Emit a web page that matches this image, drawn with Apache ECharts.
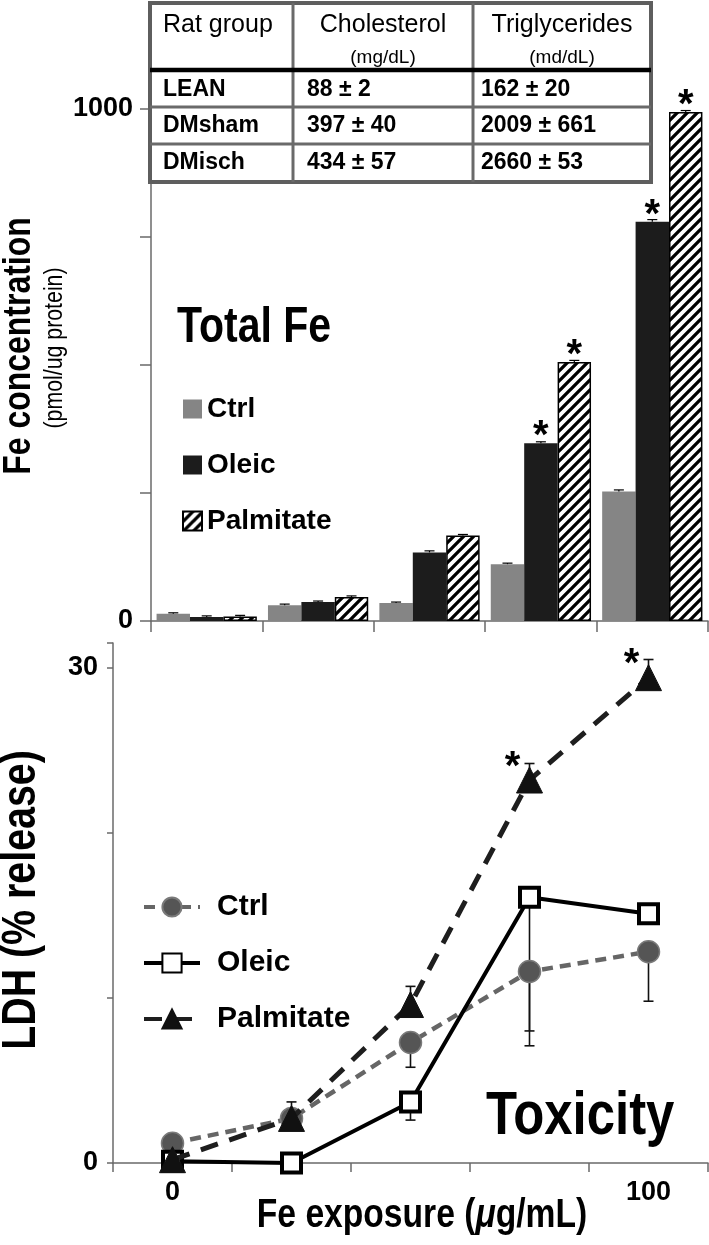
<!DOCTYPE html>
<html>
<head>
<meta charset="utf-8">
<script src="https://cdn.jsdelivr.net/npm/echarts@6/dist/echarts.min.js"></script>
<style>
html,body{margin:0;padding:0;background:#fff;}
#chart{width:709px;height:1245px;}
</style>
</head>
<body>
<div id="chart"></div>
<script>
// ---------- DATA ----------
const exposureCats = ['0', 'e2', 'e3', 'e4', '100'];
const exposureLabels = ['0', '', '', '', '100'];
const seriesNames = ['Ctrl', 'Oleic', 'Palmitate'];

// Top panel: Total Fe (pmol/ug protein)
const feCtrl = [14, 31, 35, 111, 253];
const feOleic = [8, 37, 134, 347, 780];
const fePalm = [9, 47, 167, 506, 994];
const feCtrlErr = [2, 2, 2, 2, 3];
const feOleicErr = [2, 2, 3, 3, 4];
const fePalmErr = [2, 2, 2, 3, 3];
const feOleicSig = [0, 0, 0, 1, 1];
const fePalmSig = [0, 0, 0, 1, 1];
const feTicks = [0, 1000];

// Bottom panel: LDH (% release)
const ldhCtrl = [1.2, 2.7, 7.3, 11.6, 12.8];
const ldhOleic = [0.1, 0, 3.7, 16.1, 15.1];
const ldhPalm = [0.2, 2.7, 9.6, 23.2, 29.4];
const ldhCtrlErrLow = [0, 0, 1.5, 4.5, 3.0];
const ldhOleicErrLow = [0, 0, 1.1, 8.1, 0];
const ldhPalmErrUp = [0, 1.0, 1.1, 1.0, 1.1];
const ldhPalmSig = [0, 0, 0, 1, 1];
const ldhTicks = [0, 30];

// Table
const tableHeader = ['Rat group', 'Cholesterol', 'Triglycerides'];
const tableUnits = ['', '(mg/dL)', '(md/dL)'];
const ratGroups = ['LEAN', 'DMsham', 'DMisch'];
const cholesterol = ['88 \u00b1 2', '397 \u00b1 40', '434 \u00b1 57'];
const triglycerides = ['162 \u00b1 20', '2009 \u00b1 661', '2660 \u00b1 53'];

// ---------- STYLE ----------
const SANS = "'Liberation Sans',Arial,Helvetica,sans-serif";
const AXIS = '#6a6a6a';
const NX = 0.82; // horizontal squeeze to mimic a narrow bold face
const chart = echarts.init(document.getElementById('chart'), null, {renderer: 'canvas'});

function hatchPattern() {
  const c = document.createElement('canvas');
  c.width = 10; c.height = 10;
  const ctx = c.getContext('2d');
  ctx.fillStyle = '#fff';
  ctx.fillRect(0, 0, 10, 10);
  ctx.strokeStyle = '#000';
  ctx.lineWidth = 3.3;
  ctx.beginPath();
  ctx.moveTo(-5, 5); ctx.lineTo(5, -5);
  ctx.moveTo(0, 10); ctx.lineTo(10, 0);
  ctx.moveTo(5, 15); ctx.lineTo(15, 5);
  ctx.stroke();
  return {image: c, repeat: 'repeat'};
}

function barErrItem(params, api) {
  const cat = api.value(0), val = api.value(1), err = api.value(2), s = api.value(3);
  const p = api.coord([cat, val]);
  const band = api.size([1, 0])[0];
  const bw = band * 0.9 / 3;
  const x = p[0] + (s - 1) * bw;
  const t = api.coord([cat, val + err])[1];
  const st = {stroke: '#000', lineWidth: 1.2};
  return {type: 'group', children: [
    {type: 'line', shape: {x1: x, y1: p[1], x2: x, y2: t}, style: st},
    {type: 'line', shape: {x1: x - 5, y1: t, x2: x + 5, y2: t}, style: st}
  ]};
}
function lineErrItem(params, api) {
  const cat = api.value(0), val = api.value(1), lo = api.value(2), hi = api.value(3);
  const p = api.coord([cat, val]);
  const st = {stroke: '#111', lineWidth: 1.6};
  const ch = [];
  if (lo > 0) {
    const y = api.coord([cat, val - lo])[1];
    ch.push({type: 'line', shape: {x1: p[0], y1: p[1], x2: p[0], y2: y}, style: st});
    ch.push({type: 'line', shape: {x1: p[0] - 5, y1: y, x2: p[0] + 5, y2: y}, style: st});
  }
  if (hi > 0) {
    const y = api.coord([cat, val + hi])[1];
    ch.push({type: 'line', shape: {x1: p[0], y1: p[1], x2: p[0], y2: y}, style: st});
    ch.push({type: 'line', shape: {x1: p[0] - 5, y1: y, x2: p[0] + 5, y2: y}, style: st});
  }
  return {type: 'group', children: ch};
}

const starLabelBar = {show: true, position: 'top', distance: -14, formatter: '*',
  fontSize: 40, fontWeight: 'bold', fontFamily: SANS, color: '#000'};
const starLabelLine = {show: true, position: 'top', distance: -21, offset: [-17, 0], formatter: '*',
  fontSize: 40, fontWeight: 'bold', fontFamily: SANS, color: '#000'};

function withSig(vals, sig, lab) {
  return vals.map((v, i) => sig[i] ? {value: v, label: lab} : v);
}

const axisLabelStyle = {fontFamily: SANS, fontWeight: 'bold', fontSize: 27, color: '#000'};

const option = {
  backgroundColor: '#fff',
  animation: false,
  grid: [
    {left: 151, right: 1, top: 109, bottom: 624},
    {left: 113, right: 1, top: 643, bottom: 82}
  ],
  xAxis: [
    {gridIndex: 0, type: 'category', data: exposureCats,
     axisLine: {lineStyle: {color: AXIS, width: 1.5}},
     axisTick: {show: true, length: 11, interval: 0, lineStyle: {color: AXIS, width: 1.5}},
     axisLabel: {show: false}},
    {gridIndex: 1, type: 'category', data: exposureCats,
     axisLine: {lineStyle: {color: AXIS, width: 1.5}},
     axisTick: {show: true, length: 9, interval: 0, lineStyle: {color: AXIS, width: 1.5}},
     axisLabel: Object.assign({show: true, interval: 0, margin: 16,
       formatter: (v, i) => exposureLabels[i]}, axisLabelStyle)}
  ],
  yAxis: [
    {gridIndex: 0, type: 'value', min: 0, max: 1000, interval: 250,
     axisLine: {show: true, lineStyle: {color: AXIS, width: 1.5}},
     axisTick: {show: true, length: 11, lineStyle: {color: AXIS, width: 1.5}},
     splitLine: {show: false},
     axisLabel: Object.assign({margin: 18,
       formatter: v => feTicks.indexOf(v) >= 0 ? String(v) : ''}, axisLabelStyle)},
    {gridIndex: 1, type: 'value', min: 0, max: 31.5, interval: 10,
     axisLine: {show: true, lineStyle: {color: AXIS, width: 1.5}},
     axisTick: {show: true, length: 6, lineStyle: {color: AXIS, width: 1.5}},
     splitLine: {show: false},
     axisLabel: Object.assign({margin: 15,
       formatter: v => ldhTicks.indexOf(v) >= 0 ? String(v) : ''}, axisLabelStyle)}
  ],
  legend: [
    {data: seriesNames, orient: 'vertical', left: 177, top: 389, itemGap: 26,
     itemWidth: 19, itemHeight: 19, selectedMode: false, icon: 'rect',
     textStyle: {fontFamily: SANS, fontWeight: 'bold', fontSize: 28, lineHeight: 30, color: '#000'}},
    {data: seriesNames.map(n => n + ' '), orient: 'vertical', left: 137, top: 887, itemGap: 26,
     itemWidth: 56, itemHeight: 24, selectedMode: false,
     formatter: n => n.trim(),
     lineStyle: {width: 4},
     textStyle: {fontFamily: SANS, fontWeight: 'bold', fontSize: 30, lineHeight: 30, color: '#000',
       padding: [0, 0, 0, 12]}}
  ],
  series: [
    {name: 'Ctrl', type: 'bar', xAxisIndex: 0, yAxisIndex: 0, barGap: '0%', barCategoryGap: '10%',
     itemStyle: {color: '#858585'}, data: feCtrl},
    {name: 'Oleic', type: 'bar', xAxisIndex: 0, yAxisIndex: 0, barGap: '0%', barCategoryGap: '10%',
     itemStyle: {color: '#1c1c1c'}, data: withSig(feOleic, feOleicSig, starLabelBar)},
    {name: 'Palmitate', type: 'bar', xAxisIndex: 0, yAxisIndex: 0, barGap: '0%', barCategoryGap: '10%',
     itemStyle: {color: hatchPattern(), borderColor: '#000', borderWidth: 1.5},
     data: withSig(fePalm, fePalmSig, starLabelBar)},
    {type: 'custom', xAxisIndex: 0, yAxisIndex: 0, renderItem: barErrItem, z: 5,
     encode: {x: 0, y: 1},
     data: [].concat(
       feCtrl.map((v, i) => [i, v, feCtrlErr[i], 0]),
       feOleic.map((v, i) => [i, v, feOleicErr[i], 1]),
       fePalm.map((v, i) => [i, v, fePalmErr[i], 2]))},

    {type: 'custom', xAxisIndex: 1, yAxisIndex: 1, renderItem: lineErrItem, z: 1,
     encode: {x: 0, y: 1},
     data: [].concat(
       ldhCtrl.map((v, i) => [i, v, ldhCtrlErrLow[i], 0]),
       ldhOleic.map((v, i) => [i, v, ldhOleicErrLow[i], 0]),
       ldhPalm.map((v, i) => [i, v, 0, ldhPalmErrUp[i]]))},
    {name: 'Ctrl ', type: 'line', xAxisIndex: 1, yAxisIndex: 1, z: 2,
     lineStyle: {color: '#666', width: 4.5, type: [11, 7]},
     symbol: 'circle', symbolSize: 22,
     itemStyle: {color: '#555', borderColor: '#7a7a7a', borderWidth: 1.5},
     data: ldhCtrl},
    {name: 'Oleic ', type: 'line', xAxisIndex: 1, yAxisIndex: 1, z: 3,
     lineStyle: {color: '#000', width: 4},
     symbol: 'rect', symbolSize: 19,
     itemStyle: {color: '#fff', borderColor: '#000', borderWidth: 4},
     data: ldhOleic},
    {name: 'Palmitate ', type: 'line', xAxisIndex: 1, yAxisIndex: 1, z: 4,
     lineStyle: {color: '#1e1e1e', width: 5, type: [18, 12]},
     symbol: 'triangle', symbolSize: 26,
     itemStyle: {color: '#111', borderColor: '#111', borderWidth: 1},
     data: withSig(ldhPalm, ldhPalmSig, starLabelLine)}
  ],
  graphic: []
};

// Table drawn from the arrays
const colX = [150, 293, 473, 651];
const rowY = [3, 70, 107, 144, 182];
const g = [];
g.push({type: 'rect', z: 100, shape: {x: colX[0], y: rowY[0], width: colX[3] - colX[0], height: rowY[4] - rowY[0]},
  style: {fill: '#fff', stroke: '#5e5e5e', lineWidth: 4}});
[1, 2].forEach(c => g.push({type: 'line', z: 101, shape: {x1: colX[c], y1: rowY[0], x2: colX[c], y2: rowY[4]},
  style: {stroke: '#6a6a6a', lineWidth: 3}}));
[2, 3].forEach(r => g.push({type: 'line', z: 101, shape: {x1: colX[0], y1: rowY[r], x2: colX[3], y2: rowY[r]},
  style: {stroke: '#6a6a6a', lineWidth: 3}}));
g.push({type: 'line', z: 102, shape: {x1: colX[0], y1: rowY[1], x2: colX[3], y2: rowY[1]},
  style: {stroke: '#000', lineWidth: 4.5}});
g.push({type: 'text', z: 103, style: {x: 163, y: 25, text: tableHeader[0], fill: '#000',
  font: '25px ' + SANS, verticalAlign: 'middle', align: 'left'}});
[1, 2].forEach(c => {
  const cx = (colX[c] + colX[c + 1]) / 2;
  g.push({type: 'text', z: 103, style: {x: cx, y: 25, text: tableHeader[c], fill: '#000',
    font: '25px ' + SANS, verticalAlign: 'middle', align: 'center'}});
  g.push({type: 'text', z: 103, style: {x: cx, y: 58, text: tableUnits[c], fill: '#000',
    font: '19px ' + SANS, verticalAlign: 'middle', align: 'center'}});
});
const rowMid = [90, 126, 163];
ratGroups.forEach((name, r) => {
  g.push({type: 'text', z: 103, style: {x: 163, y: rowMid[r], text: name, fill: '#000',
    font: 'bold 23px ' + SANS, verticalAlign: 'middle'}});
  g.push({type: 'text', z: 103, style: {x: 307, y: rowMid[r], text: cholesterol[r], fill: '#000',
    font: 'bold 23px ' + SANS, verticalAlign: 'middle'}});
  g.push({type: 'text', z: 103, style: {x: 481, y: rowMid[r], text: triglycerides[r], fill: '#000',
    font: 'bold 23px ' + SANS, verticalAlign: 'middle'}});
});
// Panel titles and axis names (narrowed bold face)
function narrowText(x, y, text, font, align, rotation, extra) {
  const el = {type: 'text', x: x, y: y, scaleX: NX, rotation: rotation || 0,
    style: Object.assign({x: 0, y: 0, text: text, fill: '#000', font: font,
      align: align || 'left', verticalAlign: 'middle'}, extra || {})};
  return el;
}
g.push(narrowText(177, 328, 'Total Fe', 'bold 50px ' + SANS));
g.push(narrowText(486, 1117, 'Toxicity', 'bold 62px ' + SANS));
g.push(narrowText(19, 346, 'Fe concentration', 'bold 39px ' + SANS, 'center', Math.PI / 2));
g.push(narrowText(55, 348, '(pmol/ug protein)', '26px ' + SANS, 'center', Math.PI / 2));
g.push(narrowText(22, 900, 'LDH (% release)', 'bold 48px ' + SANS, 'center', Math.PI / 2));
g.push(narrowText(422, 1216, 'Fe exposure ({i|\u03bc}g/mL)', 'bold 41px ' + SANS, 'center', 0,
  {rich: {i: {fontStyle: 'italic', fontWeight: 'bold', fontSize: 41, fontFamily: SANS, fill: '#000'}}}));
option.graphic = g;

chart.setOption(option);
</script>
</body>
</html>
